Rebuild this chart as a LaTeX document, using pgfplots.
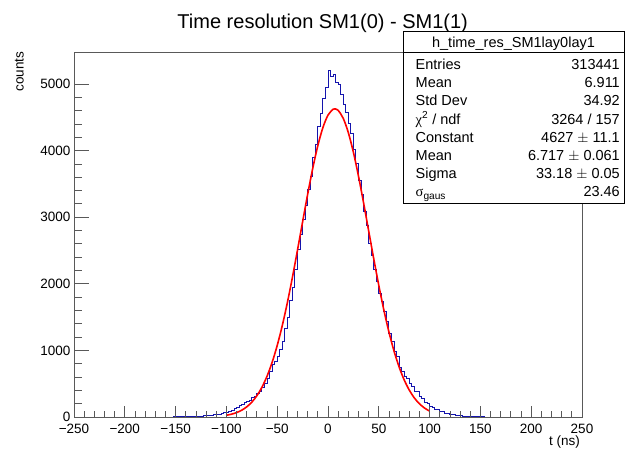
\documentclass[border=0pt]{standalone}
\usepackage{fontspec}
\setmainfont{Liberation Sans}
\newfontfamily\greek{Liberation Serif}
\usepackage{pgfplots}
\pgfplotsset{compat=1.18}
\definecolor{histblue}{rgb}{0.08,0.08,0.68}
\definecolor{framegray}{rgb}{0.35,0.35,0.35}
\newcommand{\lab}{\fontsize{13.5bp}{16bp}\selectfont}
\newcommand{\stat}{\fontsize{14.5bp}{17bp}\selectfont}
\begin{document}
\begin{tikzpicture}
\path[use as bounding box] (0,0) rectangle (627bp,452bp);
% main axis: frame, y ticks, data
\begin{axis}[
  at={(74bp,35bp)}, anchor=south west, scale only axis,
  width=508bp, height=365bp,
  xmin=-250, xmax=250, ymin=0, ymax=5481,
  axis line style={framegray, line width=0.8bp},
  tick align=inside, ytick pos=left,
  xtick=\empty,
  ytick={0,1000,2000,3000,4000,5000},
  yticklabels={0,1000,2000,3000,4000,5000},
  minor y tick num=4,
  major tick length=15bp, minor tick length=7.5bp,
  tick style={framegray, line width=0.8bp},
  yticklabel style={font=\lab},
  clip=true,
]
\addplot[const plot, histblue, line width=1bp] coordinates {
(-152.5,0) (-147.5,1) (-145,2) (-142.5,3) (-140,4) (-137.5,6) (-135,7) (-132.5,9)
(-130,10) (-127.5,13) (-125,15) (-122.5,17) (-120,21) (-117.5,24) (-115,29)
(-112.5,33) (-110,40) (-107.5,45) (-105,53) (-102.5,62) (-100,72) (-97.5,86)
(-95,104) (-92.5,122) (-90,148) (-87.5,168) (-85,192) (-82.5,212) (-80,238)
(-77.5,252) (-75,288) (-72.5,312) (-70,355) (-67.5,390) (-65,448) (-62.5,500)
(-60,585) (-57.5,680) (-55,782) (-52.5,835) (-50,915) (-47.5,1020) (-45,1140)
(-42.5,1330) (-40,1490) (-37.5,1745) (-35,1950) (-32.5,2210) (-30,2510)
(-27.5,2740) (-25,2960) (-22.5,3170) (-20,3420) (-17.5,3610) (-15,3890)
(-12.5,4090) (-10,4360) (-7.5,4550) (-5,4790) (-2.5,4950) (0,5210) (2.5,5120)
(5,5140) (7.5,5030) (10,4990) (12.5,4840) (15,4700) (17.5,4570) (20,4400)
(22.5,4250) (25,4010) (27.5,3810) (30,3550) (32.5,3340) (35,3080) (37.5,2870)
(40,2610) (42.5,2430) (45,2220) (47.5,2040) (50,1860) (52.5,1740) (55,1590)
(57.5,1430) (60,1260) (62.5,1140) (65,985) (67.5,905) (70,750) (72.5,690)
(75,605) (77.5,575) (80,505) (82.5,455) (85,390) (87.5,385) (90,315) (92.5,275)
(95,225) (97.5,205) (100,165) (102.5,145) (105,120) (107.5,108) (110,88)
(112.5,76) (115,58) (117.5,52) (120,40) (122.5,35) (125,27) (127.5,23)
(130,17) (132.5,15) (135,10) (137.5,8) (140,6) (142.5,4) (145,3) (147.5,2)
(150,0) (155,0)
};
\addplot[smooth, tension=0.5, red, line width=1.6bp] coordinates {
(-100,26.2) (-95,42.1) (-90,66.1) (-85,101.4) (-80,152.1) (-75,222.9)
(-70,319.5) (-65,447.6) (-60,612.8) (-55,820.3) (-50,1073.6) (-45,1373.2)
(-40,1717.2) (-35,2099.1) (-30,2508.4) (-25,2930.1) (-20,3346.1) (-15,3734.9)
(-10,4075.5) (-5,4347.3) (0,4533.2) (5,4620.8) (6.717,4627) (10,4604.4)
(15,4485.0) (20,4270.7) (25,3975.2) (30,3617.1) (35,3217.4) (40,2797.5)
(45,2378.0) (50,1976.0) (55,1605.0) (60,1274.5) (65,989.1) (70,750.6)
(75,556.7) (80,403.7) (85,286.1) (90,198.2) (95,134.3) (100,88.9)
};
\end{axis}
% overlay axis: x ticks and labels
\begin{axis}[
  at={(74bp,35bp)}, anchor=south west, scale only axis,
  width=508bp, height=365bp,
  xmin=-250, xmax=250, ymin=0, ymax=5481,
  hide y axis,
  axis line style={draw=none},
  tick align=inside, xtick pos=bottom,
  xtick={-250,-200,...,250},
  xticklabels={−250,−200,−150,−100,−50,0,50,100,150,200,250},
  minor x tick num=4,
  major tick length=11bp, minor tick length=5.5bp,
  tick style={framegray, line width=0.8bp},
  xticklabel style={font=\lab, yshift=-3.5bp},
]
\end{axis}
% title and axis labels
\node[font=\fontsize{20bp}{24bp}\selectfont, anchor=base] at (322.7bp,423.7bp) {Time resolution SM1(0) - SM1(1)};
\node[font=\lab, anchor=base east, inner sep=0pt] at (580bp,7bp) {t (ns)};
\node[font=\lab, anchor=base west, rotate=90, inner sep=0pt] at (23.5bp,360.3bp) {counts};
% stats box
\fill[white] (403bp,249bp) rectangle (624bp,421bp);
\draw[black, line width=0.8bp] (403bp,249bp) rectangle (624bp,421bp);
\draw[black, line width=0.8bp] (403bp,399.3bp) -- (624bp,399.3bp);
\node[font=\stat, anchor=base, inner sep=0pt] at (513.5bp,404.5bp) {h\_time\_res\_SM1lay0lay1};
\begin{scope}[every node/.style={font=\stat, inner sep=0pt}]
\node[anchor=base west] at (415.5bp,382.5bp) {Entries};
\node[anchor=base east] at (620bp,382.5bp) {313441};
\node[anchor=base west] at (415.5bp,364.3bp) {Mean};
\node[anchor=base east] at (620bp,364.3bp) {6.911};
\node[anchor=base west] at (415.5bp,346.1bp) {Std Dev};
\node[anchor=base east] at (620bp,346.1bp) {34.92};
\node[anchor=base west] at (415.5bp,327.9bp) {{\greek χ}\textsuperscript{2} / ndf};
\node[anchor=base east] at (620bp,327.9bp) {3264 / 157};
\node[anchor=base west] at (415.5bp,309.7bp) {Constant};
\node[anchor=base east] at (620bp,309.7bp) {4627 $\pm$ 11.1};
\node[anchor=base west] at (415.5bp,291.5bp) {Mean};
\node[anchor=base east] at (620bp,291.5bp) {6.717 $\pm$ 0.061};
\node[anchor=base west] at (415.5bp,273.3bp) {Sigma};
\node[anchor=base east] at (620bp,273.3bp) {33.18 $\pm$ 0.05};
\node[anchor=base west] at (415.5bp,255.1bp) {{\greek σ}\textsubscript{gaus}};
\node[anchor=base east] at (620bp,255.1bp) {23.46};
\end{scope}
\end{tikzpicture}
\end{document}
